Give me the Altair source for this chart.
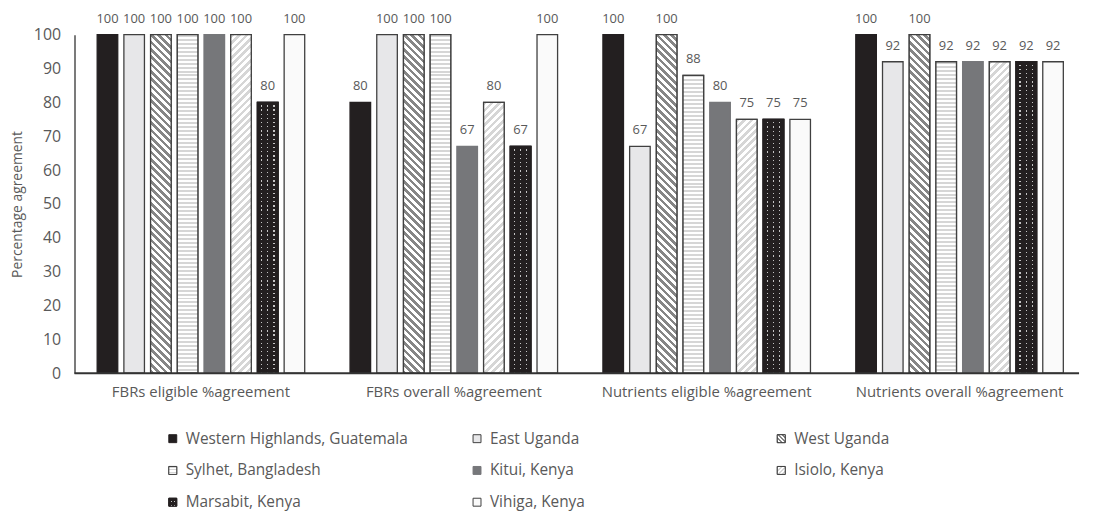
import math
import altair as alt
import pandas as pd

groups = ["FBRs eligible %agreement", "FBRs overall %agreement",
          "Nutrients eligible %agreement", "Nutrients overall %agreement"]
series = ["Western Highlands, Guatemala", "East Uganda", "West Uganda",
          "Sylhet, Bangladesh", "Kitui, Kenya", "Isiolo, Kenya",
          "Marsabit, Kenya", "Vihiga, Kenya"]
western = [100, 80, 100, 100]
east_uganda = [100, 100, 67, 92]
west_uganda = [100, 100, 100, 100]
sylhet = [100, 100, 88, 92]
kitui = [100, 67, 80, 92]
isiolo = [100, 80, 75, 92]
marsabit = [80, 67, 75, 92]
vihiga = [100, 100, 75, 92]
values = [western, east_uganda, west_uganda, sylhet, kitui, isiolo, marsabit, vihiga]

rows = []
for s, vals in zip(series, values):
    for g, v in zip(groups, vals):
        rows.append({"group": g, "series": s, "value": v})
df = pd.DataFrame(rows)

# ---- layout / style ----
W, H = 1012, 341
XR = 1019
PX_IN, PX_OUT = 0.155, 0.0775
PO_IN, PO_OUT = 0.23, 0.115
step_o = XR / 4 * (1 - PX_IN) / 8
BAR_W = step_o * (1 - PO_IN)
GRAY = "#595959"
OUTLINE = "#404040"
BLACK = "#231f20"
CLEAR = "rgba(0,0,0,0)"

fills = [BLACK, "#e7e7e9", "#ffffff", "#ffffff", "#76777a", "#ffffff", BLACK, "#fafafa"]
strokes = [BLACK, OUTLINE, OUTLINE, OUTLINE, "#76777a", OUTLINE, BLACK, OUTLINE]


def stops(c1, c2, n, frac):
    out = []
    n = max(1, int(round(n)))
    for k in range(n):
        a, b, c = k / n, (k + frac) / n, (k + 1) / n
        out += [{"color": c1, "offset": a}, {"color": c1, "offset": b},
                {"color": c2, "offset": b}, {"color": c2, "offset": min(c, 1.0)}]
    return out


def hatch(kind, w, h, c1, c2, period, frac):
    if kind == "h":
        return {"gradient": "linear", "x1": 0, "y1": 0, "x2": 0, "y2": 1,
                "stops": stops(c1, c2, h / period, frac)}
    t = (w + h) / (w * w + h * h)
    n = (w + h) / math.sqrt(2) / period
    if kind == "back":  # "\" stripes
        return {"gradient": "linear", "x1": 0, "y1": 1, "x2": t * w, "y2": 1 - t * h,
                "stops": stops(c1, c2, n, frac)}
    return {"gradient": "linear", "x1": 0, "y1": 0, "x2": t * w, "y2": t * h,
            "stops": stops(c1, c2, n, frac)}


def columns_mask(centers, half):
    st = [{"color": BLACK, "offset": 0}]
    for c in centers:
        st += [{"color": BLACK, "offset": c - half}, {"color": CLEAR, "offset": c - half},
               {"color": CLEAR, "offset": c + half}, {"color": BLACK, "offset": c + half}]
    st.append({"color": BLACK, "offset": 1})
    return {"gradient": "linear", "x1": 0, "y1": 0, "x2": 1, "y2": 0, "stops": st}


patterns = {
    "West Uganda": ("back", "#868686", "#ffffff", 5.2, 0.5),
    "Sylhet, Bangladesh": ("h", "#d6d6d6", "#ffffff", 4.0, 0.5),
    "Isiolo, Kenya": ("fwd", "#d6d6d6", "#ffffff", 5.2, 0.5),
}

xs = alt.Scale(domain=groups, paddingInner=PX_IN, paddingOuter=PX_OUT, range=[0, XR])
xos = alt.Scale(domain=series, paddingInner=PO_IN, paddingOuter=PO_OUT)
ys = alt.Scale(domain=[0, 100], nice=False)

base = alt.Chart(df).encode(
    x=alt.X("group:N", scale=xs, sort=groups,
            axis=alt.Axis(title=None, labelAngle=0, ticks=False, domain=False,
                          labelFontSize=15, labelColor=GRAY,
                          labelPadding=12, labelFont="Open Sans", labelLimit=400)),
    xOffset=alt.XOffset("series:N", scale=xos, sort=series),
    y=alt.Y("value:Q", scale=ys,
            axis=alt.Axis(title="Percentage agreement", values=list(range(0, 101, 10)),
                          tickCount=11,
                          ticks=False, grid=False, domainColor="#333333", domainWidth=1.3,
                          labelFontSize=16, labelColor=GRAY, labelPadding=14,
                          labelOverlap=False,
                          labelFont="Open Sans", titleFont="Open Sans",
                          titleFontSize=14, titleColor=GRAY, titleFontWeight="normal",
                          titlePadding=9)),
)

layers = [base.mark_bar(strokeWidth=1.3).encode(
    fill=alt.Fill("series:N", scale=alt.Scale(domain=series, range=fills), legend=None),
    stroke=alt.Stroke("series:N", scale=alt.Scale(domain=series, range=strokes), legend=None),
)]

for s, (kind, c1, c2, per, frac) in patterns.items():
    vals = values[series.index(s)]
    for v in sorted(set(vals)):
        h = v / 100 * H
        layers.append(
            base.transform_filter((alt.datum.series == s) & (alt.datum.value == v))
            .mark_bar(fill=hatch(kind, BAR_W, h, c1, c2, per, frac),
                      stroke=OUTLINE, strokeWidth=1.3)
        )

# dotted texture of the Marsabit bars: light rows masked by dark columns
ms = "Marsabit, Kenya"
for v in sorted(set(marsabit)):
    h = v / 100 * H
    sel = base.transform_filter((alt.datum.series == ms) & (alt.datum.value == v))
    layers.append(sel.mark_bar(fill=hatch("h", BAR_W, h, CLEAR, "#c4c4c4", 4.2, 0.7),
                               stroke=BLACK, strokeWidth=1.3))
layers.append(
    base.transform_filter(alt.datum.series == ms)
    .mark_bar(fill=columns_mask([0.2, 0.5, 0.8], 0.035), stroke=BLACK, strokeWidth=1.3)
)

layers.append(
    base.mark_text(baseline="bottom", dy=-9, fontSize=13, color=GRAY, font="Open Sans")
    .encode(text=alt.Text("value:Q"))
)

# category-axis baseline
layers.append(
    alt.Chart(pd.DataFrame({"k": [0]})).mark_rule(color="#333333", strokeWidth=2)
    .encode(x=alt.value(0), x2=alt.value(W), y=alt.value(H))
)

main = alt.layer(*layers).properties(width=W, height=H)

# ---- custom legend ----
leg = pd.DataFrame({"series": series,
                    "col": [i % 3 for i in range(len(series))],
                    "row": [i // 3 for i in range(len(series))]})
lx = alt.Scale(domain=[0, 2], range=[99, 712], zero=False, nice=False)
ly = alt.Scale(domain=[0, 2], range=[10, 74], zero=False, nice=False)
lbase = alt.Chart(leg).encode(
    x=alt.X("col:Q", scale=lx, axis=None),
    y=alt.Y("row:Q", scale=ly, axis=None),
)
leg_layers = [lbase.mark_square(size=64, strokeWidth=1, opacity=1).encode(
    fill=alt.Fill("series:N", scale=alt.Scale(domain=series, range=fills), legend=None),
    stroke=alt.Stroke("series:N", scale=alt.Scale(domain=series, range=strokes), legend=None),
)]
for s, (kind, c1, c2, per, frac) in patterns.items():
    leg_layers.append(
        lbase.transform_filter(alt.datum.series == s)
        .mark_square(size=64, strokeWidth=1, opacity=1, stroke=OUTLINE,
                     fill=hatch(kind, 8, 8, c1, c2, 3.0 if kind != "h" else 2.7, frac))
    )
leg_layers.append(
    lbase.transform_filter(alt.datum.series == ms)
    .mark_square(size=64, strokeWidth=1, opacity=1, stroke=BLACK,
                 fill=hatch("h", 8, 8, CLEAR, "#c4c4c4", 4, 0.7))
)
leg_layers.append(
    lbase.transform_filter(alt.datum.series == ms)
    .mark_square(size=64, strokeWidth=0, opacity=1,
                 fill=columns_mask([0.3, 0.7], 0.07))
)
leg_layers.append(
    lbase.mark_text(align="left", baseline="middle", dx=13, fontSize=15.5,
                    color=GRAY, font="Open Sans").encode(text="series:N")
)
legend = alt.layer(*leg_layers).properties(width=W, height=80)

chart = (
    alt.vconcat(main, legend, spacing=29)
    .properties(padding={"left": 2, "top": 3, "right": 0, "bottom": 0})
    .configure(font="Open Sans", view=alt.ViewConfig(stroke=None))
)

chart.save("out.html", embed_options={"renderer": "svg", "actions": False})
